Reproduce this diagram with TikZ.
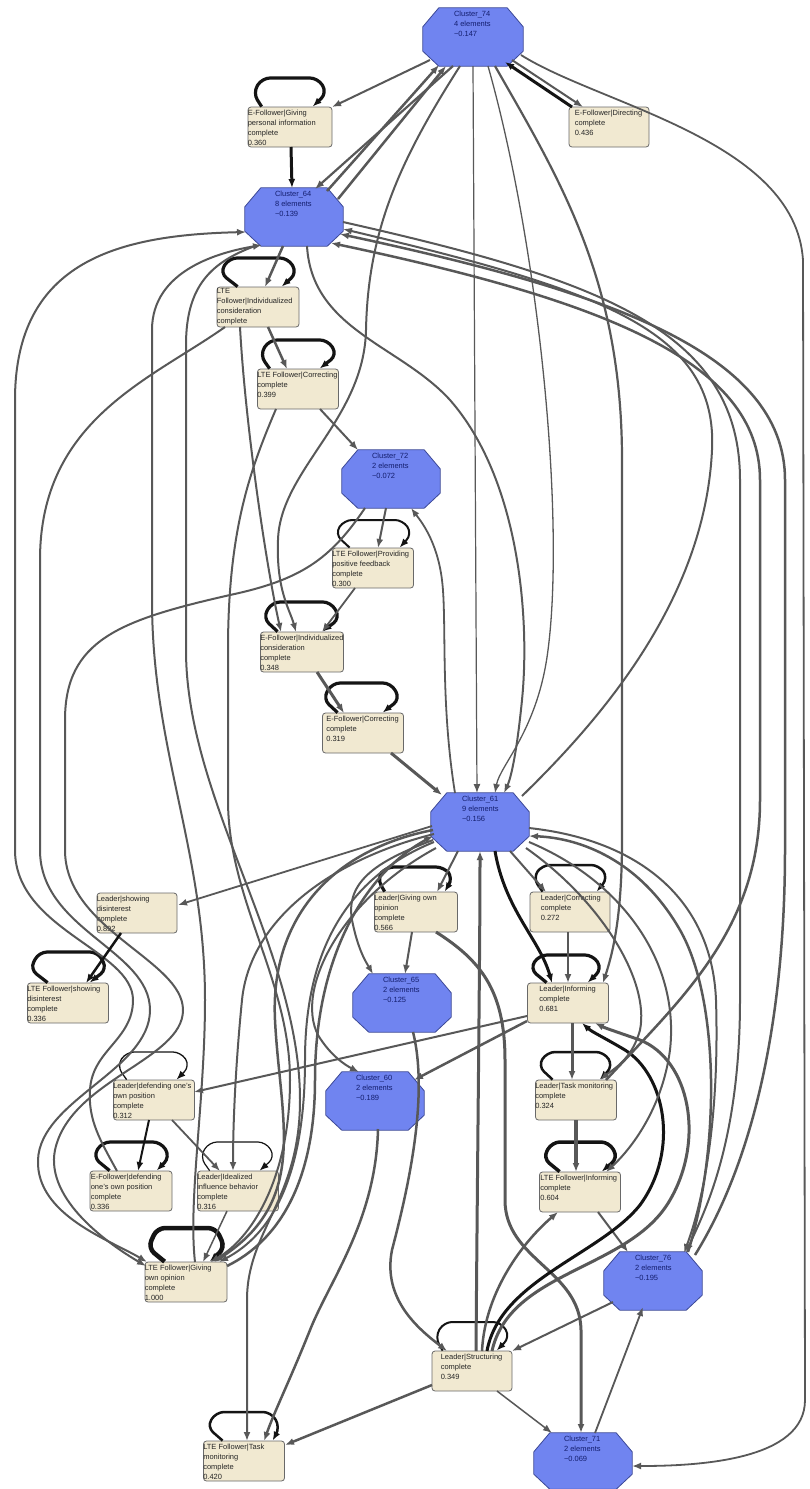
\documentclass[tikz,border=0pt]{standalone}
\usepackage{fontspec}
\setmainfont{Liberation Sans}
\usetikzlibrary{arrows.meta}
\definecolor{clfill}{RGB}{112,132,240}
\definecolor{cldraw}{RGB}{60,72,150}
\definecolor{cltext}{RGB}{20,30,110}
\definecolor{boxfill}{RGB}{241,233,209}
\definecolor{boxdraw}{RGB}{105,105,105}
\definecolor{edgec}{RGB}{88,88,88}
\definecolor{loopc}{RGB}{20,20,20}
\newcommand\octo[1]{\filldraw[fill=clfill,draw=cldraw,line width=0.8pt] ([xshift=16pt]#1.north west) -- ([xshift=-16pt]#1.north east) -- ([yshift=-19pt]#1.north east) -- ([yshift=15pt]#1.south east) -- ([xshift=-16pt]#1.south east) -- ([xshift=16pt]#1.south west) -- ([yshift=15pt]#1.south west) -- ([yshift=-19pt]#1.north west) -- cycle;}
\newcommand\myloop[8]{\draw[lp,line width=#2] ([xshift=#3pt]#1.north west) -- (#5,#7-14) -- (#5+9,#8) -- (#6-9,#8) -- (#6,#7-14) -- ([xshift=#4pt]#1.north west);}
\tikzset{
  >={Latex[length=9pt,width=7pt]},
  cl/.style={draw=none,inner sep=0pt,minimum width=98pt,minimum height=58pt},
  bx/.style={draw=boxdraw,fill=boxfill,rounded corners=3pt,line width=0.8pt,inner sep=0pt,minimum width=81pt,minimum height=40pt},
  lbl/.style={anchor=north west,inner sep=0pt,align=left,font=\fontsize{7.5}{10}\selectfont,text=black!85},
  cll/.style={lbl,text=cltext},
  ed/.style={draw=edgec,->},
  ld/.style={draw=loopc,->},
  lp/.style={draw=loopc,->,rounded corners=8pt}
}
\begin{document}
\begin{tikzpicture}[x=1pt,y=-1pt]
\useasboundingbox (0,0) rectangle (809,1489);
\fill[white] (0,0) rectangle (809,1489);
% clusters
\node[cl,minimum width=100pt] (c74) at (473,37) {};
\node[cl] (c64) at (294,217) {};
\node[cl] (c72) at (391,479) {};
\node[cl] (c61) at (480,822) {};
\node[cl] (c65) at (402,1003) {};
\node[cl] (c60) at (375,1101) {};
\node[cl] (c76) at (653,1281) {};
\node[cl,minimum height=56pt] (c71) at (583,1461) {};
\octo{c74}\octo{c64}\octo{c72}\octo{c61}\octo{c65}\octo{c60}\octo{c76}\octo{c71}
\node[cll] at ([shift={(31,3)}]c74.north west) {Cluster\_74\\4 elements\\\textasciitilde0.147};
\node[cll] at ([shift={(30,3)}]c64.north west) {Cluster\_64\\8 elements\\\textasciitilde0.139};
\node[cll] at ([shift={(30,3)}]c72.north west) {Cluster\_72\\2 elements\\\textasciitilde0.072};
\node[cll] at ([shift={(31,3)}]c61.north west) {Cluster\_61\\9 elements\\\textasciitilde0.156};
\node[cll] at ([shift={(30,3)}]c65.north west) {Cluster\_65\\2 elements\\\textasciitilde0.125};
\node[cll] at ([shift={(30,3)}]c60.north west) {Cluster\_60\\2 elements\\\textasciitilde0.189};
\node[cll] at ([shift={(31,3)}]c76.north west) {Cluster\_76\\2 elements\\\textasciitilde0.195};
\node[cll] at ([shift={(30,3)}]c71.north west) {Cluster\_71\\2 elements\\\textasciitilde0.069};
% boxes
\node[bx,minimum width=84pt] (egiv) at (290,127) {};
\node[bx,minimum width=80pt] (edir) at (609,127) {};
\node[bx,minimum width=82pt] (lind) at (258,307) {};
\node[bx] (lcor) at (298,389) {};
\node[bx] (lprov) at (373,568) {};
\node[bx,minimum width=83pt] (eind) at (302,652) {};
\node[bx] (ecor) at (363,733) {};
\node[bx,minimum width=80pt] (lshow) at (137,913) {};
\node[bx] (ltshow) at (68,1003) {};
\node[bx,minimum width=83pt] (lgiv) at (416,912) {};
\node[bx,minimum width=80pt] (lcorr) at (570,912) {};
\node[bx] (linf) at (568,1003) {};
\node[bx] (ldef) at (154,1100) {};
\node[bx,minimum width=82pt] (edef) at (131,1191) {};
\node[bx] (lideal) at (238,1191) {};
\node[bx,minimum width=82pt] (ltgiv) at (186,1282) {};
\node[bx] (ltask) at (576,1100) {};
\node[bx,minimum width=81pt] (ltinf) at (580,1192) {};
\node[bx,minimum width=80pt] (lstruct) at (472,1371) {};
\node[bx] (lttask) at (244,1461) {};
\node[lbl] at ([shift={(0,3)}]egiv.north west) {E-Follower|Giving\\personal information\\complete\\0.360};
\node[lbl] at ([shift={(6,3)}]edir.north west) {E-Follower|Directing\\complete\\0.436};
\node[lbl] at ([shift={(0,2)}]lind.north west) {LTE\\Follower|Individualized\\consideration\\complete};
\node[lbl] at ([shift={(0,3)}]lcor.north west) {LTE Follower|Correcting\\complete\\0.399};
\node[lbl] at ([shift={(0,3)}]lprov.north west) {LTE Follower|Providing\\positive feedback\\complete\\0.300};
\node[lbl] at ([shift={(0,3)}]eind.north west) {E-Follower|Individualized\\ consideration\\complete\\0.348};
\node[lbl] at ([shift={(4,3)}]ecor.north west) {E-Follower|Correcting\\complete\\0.319};
\node[lbl] at ([shift={(0,3)}]lshow.north west) {Leader|showing\\disinterest\\complete\\0.892};
\node[lbl] at ([shift={(0,3)}]ltshow.north west) {LTE Follower|showing\\disinterest\\complete\\0.336};
\node[lbl] at ([shift={(0,3)}]lgiv.north west) {Leader|Giving own\\opinion\\complete\\0.566};
\node[lbl] at ([shift={(11,3)}]lcorr.north west) {Leader|Correcting\\complete\\0.272};
\node[lbl] at ([shift={(12,3)}]linf.north west) {Leader|Informing\\complete\\0.681};
\node[lbl] at ([shift={(0,3)}]ldef.north west) {Leader|defending one's\\own position\\complete\\0.312};
\node[lbl] at ([shift={(1,3)}]edef.north west) {E-Follower|defending\\one's own position\\complete\\0.336};
\node[lbl] at ([shift={(0,3)}]lideal.north west) {Leader|Idealized\\influence behavior\\complete\\0.316};
\node[lbl] at ([shift={(0,3)}]ltgiv.north west) {LTE Follower|Giving\\own opinion\\complete\\1.000};
\node[lbl] at ([shift={(0,3)}]ltask.north west) {Leader|Task monitoring\\complete\\0.324};
\node[lbl] at ([shift={(1,3)}]ltinf.north west) {LTE Follower|Informing\\complete\\0.604};
\node[lbl] at ([shift={(9,3)}]lstruct.north west) {Leader|Structuring\\complete\\0.349};
\node[lbl] at ([shift={(0,3)}]lttask.north west) {LTE Follower|Task\\monitoring\\complete\\0.420};
% self loops: node, width, start off, end off, left x, right x, top y, peak y
\myloop{egiv}{3.2pt}{14}{65}{253}{327}{107}{78}
\myloop{lind}{3.2pt}{21}{65}{220}{297}{287}{258}
\myloop{lcor}{3.2pt}{12.5}{62.5}{260}{337}{369}{340}
\myloop{lprov}{2pt}{17.5}{67.5}{335}{412}{548}{520}
\myloop{eind}{3.2pt}{17.5}{62.5}{263}{340}{632}{602}
\myloop{ecor}{3.2pt}{15.5}{60.5}{323}{400}{713}{683}
\myloop{ltshow}{3.2pt}{20.5}{62.5}{30}{107}{983}{952}
\myloop{lgiv}{3.2pt}{10.5}{70.5}{377}{453}{892}{867}
\myloop{lcorr}{2.5pt}{13}{67}{533}{608}{892}{865}
\myloop{linf}{3.2pt}{19.5}{60.5}{530}{602}{983}{955}
\myloop{ldef}{1.3pt}{13.5}{63.5}{117}{190}{1080}{1052}
\myloop{edef}{3.2pt}{20}{67}{93}{170}{1171}{1142}
\myloop{lideal}{1.2pt}{12.5}{62.5}{200}{275}{1171}{1142}
\myloop{ltgiv}{4.5pt}{20}{65}{148}{225}{1262}{1228}
\myloop{ltask}{2.5pt}{17.5}{64.5}{538}{613}{1080}{1052}
\myloop{ltinf}{3.5pt}{20.5}{62.5}{543}{618}{1172}{1142}
\myloop{lstruct}{2pt}{11}{65}{435}{510}{1351}{1322}
\myloop{lttask}{2.5pt}{19.5}{69.5}{207}{280}{1441}{1412}
% ---- edges top
\draw[ed,line width=2pt] ([shift={(-43,23)}]c74.center) -- ([shift={(42,-20)}]egiv.center);
\draw[ld,line width=3pt] ([shift={(1,20)}]egiv.center) -- ([shift={(-2,-29)}]c64.center);
\draw[ed,line width=2.2pt] ([shift={(-20,29)}]c74.center) -- ([shift={(21,-28)}]c64.center);
\draw[ed,line width=2.5pt] ([shift={(33,-26)}]c64.center) -- ([shift={(-34,28)}]c74.center);
\draw[ed,line width=2.5pt] ([shift={(44,-18)}]c64.center) -- ([shift={(-27,29)}]c74.center);
\draw[ed,line width=2pt] ([shift={(-13,29)}]c74.center) .. controls (400,160) and (368,230) .. (366,330) .. controls (364,420) and (280,470) .. (278,540) .. controls (276,590) and (290,610) .. ([shift={(-6,-20)}]eind.center);
\draw[ed,line width=1.2pt] ([shift={(0,29)}]c74.center) -- ([shift={(-3,-29)}]c61.center);
\draw[ed,line width=2pt] ([shift={(39,23)}]c74.center) -- ([shift={(-26,-20)}]edir.center);
\draw[ld,line width=3pt] ([shift={(-37,-20)}]edir.center) -- ([shift={(32,25)}]c74.center);
\draw[ed,line width=1.8pt] ([shift={(48,18)}]c74.center) .. controls (600,105) and (795,140) .. (803,260) -- (805,1400) .. controls (805,1460) and (700,1466) .. ([shift={(49,5)}]c71.center);
\draw[ed,line width=2.2pt] ([shift={(22,29)}]c74.center) .. controls (560,180) and (622,280) .. (622,460) -- (622,840) .. controls (622,920) and (612,955) .. ([shift={(35,-20)}]linf.center);
\draw[ed,line width=1.3pt] ([shift={(15,29)}]c74.center) .. controls (540,250) and (565,520) .. (548,650) .. controls (538,730) and (500,765) .. ([shift={(15,-29)}]c61.center);
% chain
\draw[ed,line width=2.5pt] ([shift={(-11,29)}]c64.center) -- ([shift={(7,-20)}]lind.center);
\draw[ed,line width=2.5pt] ([shift={(10,20)}]lind.center) -- ([shift={(-11,-20)}]lcor.center);
\draw[ed,line width=2pt] ([shift={(22,20)}]lcor.center) -- ([shift={(-33,-29)}]c72.center);
\draw[ed,line width=2pt] ([shift={(-5,29)}]c72.center) -- ([shift={(5,-20)}]lprov.center);
\draw[ed,line width=1.8pt] ([shift={(-18,20)}]lprov.center) -- ([shift={(20,-20)}]eind.center);
\draw[ed,line width=3pt] ([shift={(15,20)}]eind.center) -- ([shift={(-19,-20)}]ecor.center);
\draw[ed,line width=3pt] ([shift={(28,20)}]ecor.center) -- ([shift={(-38,-27)}]c61.center);
\draw[ed,line width=1.8pt] ([shift={(-25,-29)}]c61.center) .. controls (440,700) and (447,620) .. (442,580) .. controls (437,540) and (420,520) .. ([shift={(20,29)}]c72.center);
\draw[ed,line width=2pt] ([shift={(-18,20)}]lind.center) .. controls (245,420) and (265,560) .. ([shift={(-21,-20)}]eind.center);
\draw[ed,line width=2pt] ([shift={(13,29)}]c64.center) .. controls (312,330) and (400,345) .. (450,400) .. controls (520,480) and (530,620) .. (522,700) .. controls (516,760) and (510,780) .. ([shift={(24,-29)}]c61.center);
% far left S lines
\draw[ed,line width=2pt] ([shift={(-14,-20)}]edef.center) .. controls (100,1140) and (88,1120) .. (90,1090) .. controls (92,1050) and (133,1040) .. (133,1000) .. controls (133,950) and (15,930) .. (15,850) -- (15,400) .. controls (15,260) and (120,235) .. ([shift={(-48,15)}]c64.center);
\draw[ed,line width=2pt] ([shift={(-33,20)}]lind.center) .. controls (150,380) and (40,420) .. (40,560) -- (40,850) .. controls (40,930) and (150,950) .. (150,1010) .. controls (150,1070) and (40,1100) .. (38,1160) .. controls (36,1215) and (110,1240) .. ([shift={(-39,-20)}]ltgiv.center);
\draw[ed,line width=2pt] ([shift={(-26,29)}]c72.center) .. controls (330,560) and (300,580) .. (230,595) .. controls (120,620) and (65,640) .. (65,720) -- (65,850) .. controls (65,930) and (183,960) .. (183,1010) .. controls (183,1060) and (70,1080) .. (55,1150) .. controls (45,1200) and (110,1245) .. ([shift={(-40,-16)}]ltgiv.center);
% center-left lines
\draw[ed,line width=2pt] ([shift={(9,-20)}]ltgiv.center) .. controls (188,1200) and (205,1100) .. (205,1000) .. controls (205,850) and (152,750) .. (152,600) -- (152,330) .. controls (152,270) and (220,252) .. ([shift={(-32,28)}]c64.center);
\draw[ed,line width=2pt] ([shift={(-39,29)}]c64.center) .. controls (212,262) and (186,285) .. (186,345) -- (186,650) .. controls (186,800) and (300,950) .. (300,1100) .. controls (300,1200) and (247,1230) .. (247,1300) -- ([shift={(3,-20)}]lttask.center);
\draw[ed,line width=2pt] ([shift={(-22,20)}]lcor.center) .. controls (250,470) and (228,530) .. (228,650) -- (228,800) .. controls (228,900) and (290,980) .. (290,1080) .. controls (290,1180) and (250,1240) .. ([shift={(24,-20)}]ltgiv.center);
\draw[ed,line width=2.5pt] ([shift={(-47,8)}]c61.center) .. controls (330,850) and (270,920) .. (275,1020) .. controls (280,1120) and (310,1200) .. ([shift={(28,-20)}]ltgiv.center);
\draw[ed,line width=2.5pt] ([shift={(41,-16)}]ltgiv.center) .. controls (280,1240) and (315,1180) .. (315,1080) .. controls (315,950) and (370,870) .. ([shift={(-47,14)}]c61.center);
\draw[ed,line width=2pt] ([shift={(-46,20)}]c61.center) .. controls (340,880) and (305,960) .. (305,1060) .. controls (305,1180) and (270,1235) .. ([shift={(33,-20)}]ltgiv.center);
\draw[ed,line width=2pt] ([shift={(-46,12)}]c61.center) .. controls (330,860) and (250,920) .. (242,1000) .. controls (236,1060) and (233,1120) .. ([shift={(-5,-20)}]lideal.center);
\draw[ed,line width=2pt] ([shift={(-44,26)}]c61.center) .. controls (340,900) and (295,990) .. (318,1035) .. controls (330,1055) and (345,1065) .. ([shift={(-16,-29)}]c60.center);
\draw[ed,line width=2.5pt] ([shift={(3,28)}]c60.center) .. controls (376,1220) and (330,1280) .. (310,1330) .. controls (290,1380) and (275,1410) .. ([shift={(20,-20)}]lttask.center);
% middle
\draw[ed,line width=1.8pt] ([shift={(-48,4)}]c61.center) -- ([shift={(41,-8)}]lshow.center);
\draw[ld,line width=2.5pt] ([shift={(-16,20)}]lshow.center) -- ([shift={(18,-20)}]ltshow.center);
\draw[ld,line width=2pt] ([shift={(-5,20)}]ldef.center) -- ([shift={(7,-20)}]edef.center);
\draw[ed,line width=1.8pt] ([shift={(18,20)}]ldef.center) -- ([shift={(-18,-20)}]lideal.center);
\draw[ed,line width=1.5pt] ([shift={(-11,20)}]lideal.center) -- ([shift={(17,-20)}]ltgiv.center);
\draw[ed,line width=2pt] ([shift={(-41,13)}]linf.center) -- ([shift={(40,-8)}]ldef.center);
\draw[ed,line width=2.5pt] ([shift={(-41,18)}]linf.center) -- ([shift={(39,-21)}]c60.center);
\draw[ed,line width=2pt] ([shift={(-22,29)}]c61.center) -- ([shift={(21,-20)}]lgiv.center);
\draw[ed,line width=2pt] ([shift={(30,29)}]c61.center) -- ([shift={(-24,-20)}]lcorr.center);
\draw[ld,line width=3pt] ([shift={(15,29)}]c61.center) .. controls (505,910) and (540,940) .. ([shift={(-16,-20)}]linf.center);
\draw[ed,line width=2.5pt] ([shift={(-2,20)}]lcorr.center) -- ([shift={(0,-20)}]linf.center);
\draw[ed,line width=2pt] ([shift={(-4,20)}]lgiv.center) -- ([shift={(3,-29)}]c65.center);
\draw[ed,line width=2pt] ([shift={(-47,18)}]c61.center) .. controls (380,860) and (345,880) .. (352,920) .. controls (358,950) and (366,962) .. ([shift={(-29,-29)}]c65.center);
\draw[ed,line width=3pt] ([shift={(20,20)}]lgiv.center) .. controls (480,960) and (505,990) .. (505,1060) -- (505,1200) .. controls (505,1260) and (580,1270) .. (581,1330) -- ([shift={(-2,-28)}]c71.center);
\draw[ed,line width=2.5pt] ([shift={(11,29)}]c65.center) .. controls (430,1100) and (405,1200) .. (392,1250) .. controls (382,1300) and (420,1330) .. ([shift={(-25,-20)}]lstruct.center);
\draw[ed,line width=3pt] ([shift={(4,-20)}]lstruct.center) .. controls (478,1100) and (480,950) .. ([shift={(0,29)}]c61.center);
% lower right
\draw[ed,line width=3pt] ([shift={(4,20)}]linf.center) -- ([shift={(-4,-20)}]ltask.center);
\draw[ed,line width=3.5pt] ([shift={(0,20)}]ltask.center) -- ([shift={(-4,-20)}]ltinf.center);
\draw[ed,line width=2pt] ([shift={(18,20)}]ltinf.center) -- ([shift={(-25,-29)}]c76.center);
\draw[ed,line width=2.5pt] ([shift={(10,-20)}]lstruct.center) .. controls (485,1290) and (525,1240) .. ([shift={(-22,20)}]ltinf.center);
\draw[ld,line width=3pt] ([shift={(15,-20)}]lstruct.center) .. controls (500,1280) and (600,1255) .. (640,1205) .. controls (680,1150) and (665,1075) .. (625,1050) .. controls (605,1038) and (592,1032) .. ([shift={(14,20)}]linf.center);
\draw[ed,line width=3pt] ([shift={(20,-20)}]lstruct.center) .. controls (510,1270) and (630,1270) .. (670,1200) .. controls (705,1140) and (690,1060) .. (640,1040) .. controls (620,1033) and (605,1028) .. ([shift={(27,20)}]linf.center);
\draw[ed,line width=2.5pt] ([shift={(-40,14)}]lstruct.center) -- ([shift={(41,-16)}]lttask.center);
\draw[ed,line width=1.5pt] ([shift={(25,20)}]lstruct.center) -- ([shift={(-31,-28)}]c71.center);
\draw[ed,line width=1.8pt] ([shift={(12,-28)}]c71.center) -- ([shift={(-10,26)}]c76.center);
\draw[ed,line width=2pt] ([shift={(-40,21)}]c76.center) -- ([shift={(40,-20)}]lstruct.center);
% right side long lines
\draw[ed,line width=2.5pt] ([shift={(42,-26)}]c76.center) .. controls (760,1150) and (785,1000) .. (785,850) -- (785,480) .. controls (785,350) and (600,290) .. ([shift={(46,17)}]c64.center);
\draw[ed,line width=2.5pt] ([shift={(30,-20)}]ltask.center) .. controls (680,1000) and (760,930) .. (760,800) -- (760,480) .. controls (760,360) and (600,300) .. ([shift={(37,26)}]c64.center);
\draw[ed,line width=2pt] ([shift={(49,5)}]c64.center) .. controls (600,280) and (740,330) .. (740,480) -- (740,1000) .. controls (740,1150) and (700,1220) .. ([shift={(33,-28)}]c76.center);
\draw[ed,line width=2pt] ([shift={(42,-26)}]c61.center) .. controls (600,720) and (705,600) .. (712,450) .. controls (718,330) and (600,290) .. ([shift={(49,12)}]c64.center);
\draw[ed,line width=2.5pt] ([shift={(35,-29)}]c76.center) .. controls (720,1150) and (720,1000) .. (680,930) .. controls (640,860) and (580,838) .. ([shift={(49,14)}]c61.center);
\draw[ed,line width=2pt] ([shift={(49,6)}]c61.center) .. controls (640,840) and (712,900) .. (716,1000) .. controls (720,1130) and (700,1210) .. ([shift={(31,-28)}]c76.center);
\draw[ed,line width=2pt] ([shift={(49,20)}]c61.center) .. controls (620,880) and (680,960) .. (670,1050) .. controls (662,1110) and (630,1150) .. ([shift={(26,-20)}]ltinf.center);
\draw[ed,line width=2pt] ([shift={(46,26)}]c61.center) .. controls (600,900) and (650,980) .. (640,1030) .. controls (632,1060) and (612,1070) .. ([shift={(24,-20)}]ltask.center);
\end{tikzpicture}
\end{document}
